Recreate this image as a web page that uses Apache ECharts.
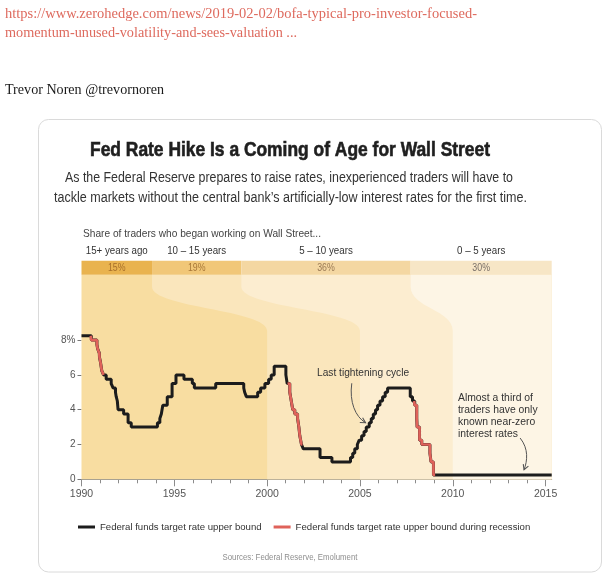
<!DOCTYPE html>
<html><head><meta charset="utf-8">
<script src="https://cdn.jsdelivr.net/npm/echarts@6/dist/echarts.min.js"></script>
<style>html,body{margin:0;padding:0;background:#fff}#chart{width:615px;height:586px}</style>
</head><body><div id="chart"></div>
<script>
// ---------- data ----------
const rateYears = [1990.00,1990.53,1990.83,1990.87,1990.96,1990.97,1991.02,1991.09,1991.19,1991.33,1991.60,1991.70,1991.83,1991.87,1991.93,1991.97,1992.27,1992.51,1992.68,1994.09,1994.22,1994.30,1994.38,1994.62,1994.88,1995.09,1995.52,1995.97,1996.08,1997.23,1998.74,1998.79,1998.88,1999.49,1999.65,1999.88,2000.08,2000.22,2000.38,2001.01,2001.08,2001.22,2001.30,2001.38,2001.49,2001.64,2001.71,2001.76,2001.85,2001.95,2002.85,2003.49,2004.49,2004.61,2004.72,2004.86,2004.96,2005.09,2005.22,2005.34,2005.50,2005.61,2005.72,2005.84,2005.95,2006.08,2006.22,2006.36,2006.49,2007.71,2007.83,2007.95,2008.06,2008.08,2008.21,2008.33,2008.77,2008.83,2008.96];
const rateValues = [8.25,8.00,7.75,7.50,7.25,7.00,6.75,6.25,6.00,5.75,5.50,5.25,5.00,4.75,4.50,4.00,3.75,3.25,3.00,3.25,3.50,3.75,4.25,4.75,5.50,6.00,5.75,5.50,5.25,5.50,5.25,5.00,4.75,5.00,5.25,5.50,5.75,6.00,6.50,6.00,5.50,5.00,4.50,4.00,3.75,3.50,3.00,2.50,2.00,1.75,1.25,1.00,1.25,1.50,1.75,2.00,2.25,2.50,2.75,3.00,3.25,3.50,3.75,4.00,4.25,4.50,4.75,5.00,5.25,4.75,4.50,4.25,3.50,3.00,2.25,2.00,1.50,1.00,0.25];
const seriesEndYear = 2015.33;
const recessionStarts = [1990.50, 2001.10, 2007.92];
const recessionEnds   = [1991.20, 2001.90, 2009.05];

const cohortLabels = ['15+ years ago', '10 \u2013 15 years', '5 \u2013 10 years', '0 \u2013 5 years'];
const cohortShares = [15, 19, 36, 30];
const cohortStartYears = [1990, 2000, 2005, 2010];

const xLabelYears = [1990, 1995, 2000, 2005, 2010, 2015];
const xMinorYears = [1990,1991,1992,1993,1994,1995,1996,1997,1998,1999,2000,2001,2002,2003,2004,2005,2006,2007,2008,2009,2010,2011,2012,2013,2014,2015];
const yTickValues = [0, 2, 4, 6, 8];

const NAME_BLACK = 'Federal funds target rate upper bound';
const NAME_RED = 'Federal funds target rate upper bound during recession';

// annotations (placed in data coordinates)
const annotations = [
  { lines: ['Last tightening cycle'], at: [2002.69, 6.11], width: 92,
    arrow: [[2004.56, 5.52], [2004.42, 4.45], [2004.75, 3.6], [2005.30, 3.25]] },
  { lines: ['Almost a third of', 'traders have only', 'known near-zero', 'interest rates'], at: [2010.28, 4.66], width: 75,
    arrow: [[2013.63, 2.37], [2014.10, 1.75], [2014.02, 1.05], [2013.84, 0.55]] }
];

// ---------- styling ----------
const X_MIN = 1990, X_MAX = seriesEndYear, Y_MAX = 11.75;
const headerColors = ['#e9b34f', '#f1c778', '#f4d7a2', '#f7e6c6'];
const headerTextColors = ['#a8702a', '#a87838', '#9a7a55', '#7a7068'];
const zoneColors = ['#f8dda1', '#fae6bc', '#fcedd0', '#fdf5e5'];
const SANS = '"Liberation Sans", Arial, sans-serif';
const SERIF = '"Liberation Serif", "Times New Roman", serif';

const mctx = document.createElement('canvas').getContext('2d');
function textW(text, font) { mctx.font = font; return mctx.measureText(text).width; }
function fit(text, font, target) { return target / textW(text, font); }
function hasFont(name) {
  const s = 'abcdefghijklmnopqrstuvwxyz0123456789';
  const a = textW(s, '20px monospace');
  const b = textW(s, '20px "' + name + '", monospace');
  return Math.abs(a - b) > 0.5;
}

function rateAt(t) {
  let v = rateValues[0];
  for (let i = 0; i < rateYears.length; i++) { if (rateYears[i] <= t) v = rateValues[i]; }
  return v;
}
const blackData = rateYears.map((y, i) => [y, rateValues[i]]);
blackData.push([seriesEndYear, rateValues[rateValues.length - 1]]);

const redSeries = recessionStarts.map((s, k) => {
  const e = recessionEnds[k];
  const pts = [[s, rateAt(s)]];
  rateYears.forEach((y, i) => { if (y > s && y < e) pts.push([y, rateValues[i]]); });
  pts.push([e, rateAt(e)]);
  return {
    name: NAME_RED, type: 'line', step: 'end', data: pts, showSymbol: false, symbol: 'none',
    color: '#df625a', lineStyle: { width: 2.7, color: '#df625a' }, z: 4, silent: true
  };
});

function txt(x, y, text, font, fill, align, scaleX, extra) {
  return {
    type: 'text', x: x, y: y, scaleX: scaleX || 1,
    style: Object.assign({ text: text, font: font, fill: fill, textAlign: align, textVerticalAlign: 'middle', align: align, verticalAlign: 'middle' }, extra || {})
  };
}

// background cohort zones + header strip
const HEADER_H = 14;
function renderCohort(params, api) {
  const i = params.dataIndex;
  const tl = api.coord([X_MIN, Y_MAX]);
  const br = api.coord([X_MAX, 0]);
  const x0 = tl[0], yTop = tl[1], x1 = br[0], yBot = br[1];
  const span = x1 - x0;
  let before = 0;
  for (let k = 0; k < i; k++) before += cohortShares[k];
  const topL = x0 + before / 100 * span;
  const topR = x0 + (before + api.value(1)) / 100 * span;
  const botL = api.coord([api.value(0), 0])[0];
  const children = [];
  if (i === 0) {
    children.push({ type: 'rect', shape: { x: x0, y: yTop, width: span, height: yBot - yTop }, style: { fill: zoneColors[0] } });
  } else {
    const yA = yTop + 12, yB = yTop + 56, k = (yB - yA) * 0.48;
    const d = 'M' + topL + ' ' + yTop + ' L' + topL + ' ' + yA +
      ' C' + topL + ' ' + (yA + k) + ' ' + botL + ' ' + (yB - k) + ' ' + botL + ' ' + yB +
      ' L' + botL + ' ' + yBot + ' L' + x1 + ' ' + yBot + ' L' + x1 + ' ' + yTop + ' Z';
    children.push({ type: 'path', shape: { pathData: d }, style: { fill: zoneColors[i] } });
  }
  children.push({ type: 'rect', shape: { x: topL, y: yTop - HEADER_H, width: topR - topL, height: HEADER_H }, style: { fill: headerColors[i] } });
  const cx = (topL + topR) / 2;
  const shareFont = '10px ' + SANS;
  children.push(txt(cx, yTop - HEADER_H / 2, api.value(1) + '%', shareFont, headerTextColors[i], 'center', 0.88));
  const labFont = '11px ' + SANS;
  const labScale = fit(cohortLabels[0], labFont, 62);
  children.push(txt(cx, yTop - 24, cohortLabels[i], labFont, '#333', 'center', labScale));
  return { type: 'group', children: children };
}

function arrowHead(tip, from, size) {
  const dx = tip[0] - from[0], dy = tip[1] - from[1];
  const len = Math.hypot(dx, dy) || 1;
  const ux = dx / len, uy = dy / len;
  const bx = tip[0] - ux * size, by = tip[1] - uy * size;
  const px = -uy, py = ux;
  return [[bx + px * size * 0.55, by + py * size * 0.55], [tip[0], tip[1]], [bx - px * size * 0.55, by - py * size * 0.55]];
}

function renderAnnotation(params, api) {
  const a = annotations[params.dataIndex];
  const p = api.coord(a.at);
  const font = '10px ' + SANS;
  const sc = fit(a.lines[0], font, a.width);
  const children = [];
  a.lines.forEach((line, j) => {
    children.push(txt(p[0], p[1] + j * 12, line, font, '#333', 'left', sc));
  });
  const P = a.arrow.map(c => api.coord(c));
  children.push({ type: 'bezierCurve', shape: { x1: P[0][0], y1: P[0][1], cpx1: P[1][0], cpy1: P[1][1], cpx2: P[2][0], cpy2: P[2][1], x2: P[3][0], y2: P[3][1] },
    style: { stroke: '#555', lineWidth: 1, fill: null } });
  children.push({ type: 'polyline', shape: { points: arrowHead(P[3], P[2], 5) }, style: { stroke: '#555', lineWidth: 1.1, fill: null } });
  return { type: 'group', children: children };
}

// ---------- texts outside the plot ----------
const titleFont = 'bold 20px ' + SANS;
const subFont = '14px ' + SANS;
const urlFont = '15px ' + SERIF;
const smallFont = '11px ' + SANS;
const srcFont = '9.3px ' + SANS;
const title = 'Fed Rate Hike Is a Coming of Age for Wall Street';
const sub1 = 'As the Federal Reserve prepares to raise rates, inexperienced traders will have to';
const sub2 = 'tackle markets without the central bank\u2019s artificially-low interest rates for the first time.';
const url1 = 'https://www.zerohedge.com/news/2019-02-02/bofa-typical-pro-investor-focused-';
const url2 = 'momentum-unused-volatility-and-sees-valuation ...';
const author = 'Trevor Noren @trevornoren';
const shareHead = 'Share of traders who began working on Wall Street...';
const sources = 'Sources: Federal Reserve, Emolument';

const graphics = [
  { type: 'rect', z: -10, shape: { x: 38.5, y: 119.5, width: 563, height: 452.5, r: 10 }, style: { fill: '#fff', stroke: '#dadada', lineWidth: 1 } },
  txt(5, 14, url1, urlFont, '#de6a5e', 'left', fit(url1, urlFont, 472)),
  txt(5, 33, url2, urlFont, '#de6a5e', 'left', fit(url2, urlFont, 292)),
  txt(5, 90, author, urlFont, '#1a1a1a', 'left', fit(author, urlFont, 159)),
  txt(290, 150.5, title, titleFont, '#1f1f1f', 'center', fit(title, titleFont, 400), { stroke: '#1f1f1f', lineWidth: 0.6 }),
  txt(289, 178, sub1, subFont, '#333', 'center', fit(sub1, subFont, 448)),
  txt(290.5, 198, sub2, subFont, '#333', 'center', fit(sub2, subFont, 473)),
  txt(83, 234, shareHead, smallFont, '#444', 'left', fit(shareHead, smallFont, 238)),
  txt(290, 557, sources, srcFont, '#8e8e8e', 'center', fit(sources, srcFont, 135))
];

const narrow = hasFont('Liberation Sans Narrow');
const legendText = narrow ? { fontFamily: '"Liberation Sans Narrow"', fontSize: 11.5 } : { fontFamily: '"Liberation Sans"', fontSize: 9.6 };

const chart = echarts.init(document.getElementById('chart'), null, { renderer: 'canvas' });
chart.setOption({
  animation: false,
  backgroundColor: '#ffffff',
  textStyle: { fontFamily: SANS },
  graphic: { elements: graphics },
  grid: { left: 81.5, right: 615 - 551.7, top: 479.3 - Y_MAX * 17.4, bottom: 586 - 479.3, containLabel: false, outerBoundsMode: 'none' },
  legend: {
    data: [NAME_BLACK, NAME_RED], left: 78, top: 522, padding: 0, icon: 'rect', itemWidth: 17, itemHeight: 3, itemGap: 12,
    textStyle: Object.assign({ color: '#333' }, legendText), selectedMode: false
  },
  xAxis: [
    { type: 'value', min: X_MIN, max: X_MAX, position: 'bottom',
      axisLine: { show: true, lineStyle: { color: '#8c8c8c', width: 1 } },
      axisTick: { show: true, customValues: xLabelYears, length: 7, lineStyle: { color: '#8c8c8c' } },
      axisLabel: { customValues: xLabelYears, formatter: v => String(Math.round(v)), color: '#555', fontSize: 10.5, margin: 9 },
      splitLine: { show: false } },
    { type: 'value', min: X_MIN, max: X_MAX, position: 'bottom',
      axisLine: { show: false },
      axisTick: { show: true, customValues: xMinorYears, length: 4, lineStyle: { color: '#8c8c8c' } },
      axisLabel: { show: false }, splitLine: { show: false } }
  ],
  yAxis: { type: 'value', min: 0, max: Y_MAX,
    axisLine: { show: false },
    axisTick: { show: true, customValues: yTickValues, length: 4, lineStyle: { color: '#777' } },
    axisLabel: { customValues: yTickValues, formatter: v => (v === 8 ? '8%' : String(v)), color: '#555', fontSize: 10, margin: 6 },
    splitLine: { show: false } },
  series: [
    { type: 'custom', name: 'cohorts', renderItem: renderCohort, clip: false, silent: true, z: 1,
      data: cohortStartYears.map((y, i) => [y, cohortShares[i]]) },
    { name: NAME_BLACK, type: 'line', step: 'end', data: blackData, showSymbol: false, symbol: 'none',
      color: '#1c1c1c', lineStyle: { width: 3, color: '#1c1c1c' }, z: 3, silent: true },
    ...redSeries,
    { type: 'custom', name: 'annotations', renderItem: renderAnnotation, clip: false, silent: true, z: 5,
      data: annotations.map(a => a.at) }
  ]
});
</script>
</body></html>
